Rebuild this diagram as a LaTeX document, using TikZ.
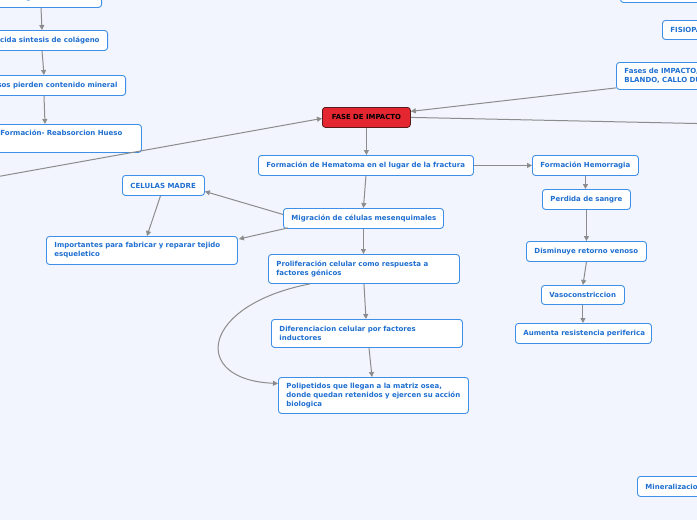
\documentclass[tikz,border=0pt]{standalone}
\usepackage{fontspec}
\setmainfont{DejaVu Sans}
\usetikzlibrary{arrows.meta,calc}
\definecolor{bg}{HTML}{F2F5FE}
\definecolor{boxblue}{HTML}{3D8FE8}
\definecolor{txtblue}{HTML}{1F6FD1}
\definecolor{arrgray}{HTML}{8C8C8C}
\definecolor{rootred}{HTML}{E3262F}
\definecolor{rootline}{HTML}{5A1A1A}
\begin{document}
\begin{tikzpicture}[x=1pt,y=-1pt,
  box/.style={draw=boxblue,line width=0.9pt,fill=white,rounded corners=3pt,text=txtblue,
    font=\fontsize{7}{9}\selectfont\bfseries,inner xsep=8pt,inner ysep=0pt,
    anchor=north west,align=left,minimum height=20pt},
  rootbox/.style={draw=rootline,line width=0.8pt,fill=rootred,rounded corners=3pt,text=black,
    font=\fontsize{6.9}{8}\selectfont\bfseries,inner sep=0pt,anchor=north west,align=center},
  arr/.style={draw=arrgray,line width=1pt,-{Triangle[length=5pt,width=5pt]}},
  ln/.style={draw=arrgray,line width=1pt}]
\useasboundingbox (0,0) rectangle (697,520);
\clip (0,0) rectangle (697,520);
\fill[bg] (0,0) rectangle (697,520);

% left column (partly off page)
\node[box,anchor=north east] (n1) at (102,-13) {\mbox{para adelgazamiento oseo}};
\node[box,anchor=north east] (n2) at (108,30) {\mbox{Reducida sintesis de colágeno}};
\node[box,anchor=north east] (n3) at (126,75) {\mbox{Huesos pierden contenido mineral}};
\node[box,text width=133pt,minimum height=28pt] (n4) at (-8,124) {\mbox{Formación- Reabsorcion Hueso}\\ \strut};

% right, partly off page
\node[box,text width=84pt,minimum height=20pt] (topr) at (620,-18) {};
\node[box,text width=64pt,minimum height=19pt] (fisio) at (662,20) {\mbox{FISIOPATOLOGIA}};
\node[box,text width=150pt,minimum height=27pt] (fases) at (616,62) {\mbox{Fases de IMPACTO, CALLO}\\ \mbox{BLANDO, CALLO DURO, REMODELACION}};
\node[box,text width=74pt,minimum height=20pt] (mine) at (637,476) {\mbox{Mineralizacion}};

% root
\node[rootbox,minimum width=88pt,minimum height=20pt] (fase) at (322,107) {FASE DE IMPACTO};

% centre
\node[box,text width=199pt] (hem) at (258,155) {\mbox{Formación de Hematoma en el lugar de la fractura}};
\node[box,text width=144pt] (mig) at (283,208) {\mbox{Migración de células mesenquimales}};
\node[box,text width=66pt] (cel) at (122,175) {\mbox{CELULAS MADRE}};
\node[box,text width=175pt,minimum height=28pt] (imp) at (46,236) {\mbox{Importantes para fabricar y reparar tejido}\\ \mbox{esqueletico}};
\node[box,text width=175pt,minimum height=29pt] (prol) at (268,254) {\mbox{Proliferación celular como respuesta a}\\ \mbox{factores génicos}};
\node[box,text width=175pt,minimum height=28pt] (dif) at (271,319) {\mbox{Diferenciacion celular por factores}\\ \mbox{inductores}};
\node[box,text width=174pt,minimum height=36pt] (poli) at (278,377) {\mbox{Polipetidos que llegan a la matriz osea,}\\ \mbox{donde quedan retenidos y ejercen su acción}\\ \mbox{biologica}};

% right column
\node[box,text width=90pt] (hemo) at (532,155) {\mbox{Formación Hemorragia}};
\node[box,text width=72pt] (perd) at (542,189) {\mbox{Perdida de sangre}};
\node[box,text width=104pt] (dism) at (526,241) {\mbox{Disminuye retorno venoso}};
\node[box,text width=67pt,minimum height=19pt] (vaso) at (541,285) {\mbox{Vasoconstriccion}};
\node[box,text width=120pt] (aum) at (515,323) {\mbox{Aumenta resistencia periferica}};

% free ends
\coordinate (L) at (-10,178);
\coordinate (R) at (720,124);

% connectors
\draw[arr] (n1.south -| 41,0) -- (n2.north -| 42,0);
\draw[arr] (n2.south -| 42,0) -- (n3.north -| 44,0);
\draw[arr] (n3.south -| 44,0) -- (n4.north -| 45,0);
\draw[arr] (L) -- ([yshift=-1pt]fase.west);
\draw[arr] ([yshift=2pt]fases.south west) -- ([yshift=6pt]fase.east);
\draw[ln] (fase.east) -- (R);
\draw[arr] (fase.south) -- (hem.north -| fase.south);
\draw[arr] (hem.east) -- (hemo.west);
\draw[arr] (hemo.south) -- (perd.north -| hemo.south);
\draw[arr] (perd.south) -- (dism.north);
\draw[arr] (dism.south) -- (vaso.north);
\draw[arr] (vaso.south) -- (aum.north -| vaso.south);
\draw[arr] (hem.south) -- (mig.north);
\draw[arr] ([yshift=4pt]mig.west) -- ([yshift=-6pt]cel.east);
\draw[arr] ([xshift=5pt,yshift=1pt]mig.south west) -- ([xshift=1pt,yshift=-3pt]imp.north east);
\draw[arr] ([xshift=-3pt]cel.south) -- (imp.north -| 147,0);
\draw[arr] (mig.south) -- (prol.north -| mig.south);
\draw[arr] (prol.south) -- (dif.north -| 366,0);
\draw[arr] (dif.south -| 369,0) -- (poli.north -| 372,0);
\draw[arr] (prol.south -| 310,0) .. controls (200,305) and (190,380) .. ([yshift=12pt]poli.west);
\end{tikzpicture}
\end{document}
